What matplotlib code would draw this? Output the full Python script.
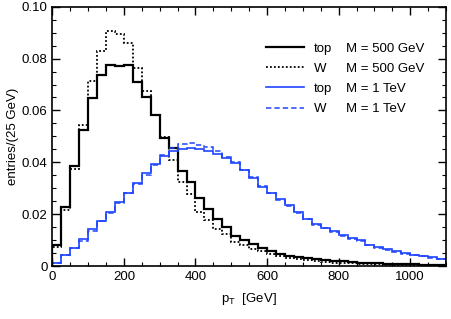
import numpy as np
import matplotlib
matplotlib.use("Agg")
import matplotlib.pyplot as plt
from matplotlib.lines import Line2D
from matplotlib.ticker import MultipleLocator

plt.rcParams['font.family'] = ['Liberation Sans', 'DejaVu Sans']
plt.rcParams['font.size'] = 9.5

# 25 GeV bins from 0 to 1100 GeV
edges = np.arange(0, 1101, 25)

top_500 = [0.0083, 0.0228, 0.0387, 0.0526, 0.0647, 0.0738, 0.0774, 0.0771,
           0.0777, 0.0709, 0.0651, 0.0583, 0.0495, 0.0455, 0.0366, 0.0325,
           0.0264, 0.0219, 0.0183, 0.0149, 0.0114, 0.0099, 0.0084, 0.0070,
           0.0058, 0.0048, 0.0040, 0.0034, 0.0031, 0.0027, 0.0024, 0.0021,
           0.0019, 0.0016, 0.0013, 0.0012, 0.0010, 0.0009, 0.0008, 0.0007,
           0.0006, 0.0005, 0.0004, 0.0004]

w_500 = [0.0074, 0.0215, 0.0374, 0.0543, 0.0713, 0.0829, 0.0908, 0.0895,
         0.0860, 0.0764, 0.0675, 0.0583, 0.0497, 0.0410, 0.0325, 0.0278,
         0.0209, 0.0178, 0.0142, 0.0123, 0.0093, 0.0080, 0.0067, 0.0057,
         0.0046, 0.0037, 0.0031, 0.0026, 0.0022, 0.0019, 0.0016, 0.0013,
         0.0011, 0.0010, 0.0008, 0.0007, 0.0006, 0.0005, 0.0005, 0.0004,
         0.0003, 0.0003, 0.0002, 0.0002]

top_1000 = [0.0013, 0.0044, 0.0070, 0.0104, 0.0142, 0.0173, 0.0208, 0.0248,
            0.0283, 0.0319, 0.0357, 0.0395, 0.0424, 0.0442, 0.0453, 0.0455,
            0.0452, 0.0443, 0.0432, 0.0415, 0.0396, 0.0370, 0.0338, 0.0306,
            0.0280, 0.0258, 0.0234, 0.0209, 0.0183, 0.0163, 0.0148, 0.0135,
            0.0120, 0.0108, 0.0099, 0.0082, 0.0074, 0.0064, 0.0057, 0.0051,
            0.0044, 0.0040, 0.0033, 0.0027]

w_1000 = [0.0012, 0.0043, 0.0068, 0.0098, 0.0135, 0.0172, 0.0204, 0.0245,
          0.0280, 0.0317, 0.0352, 0.0390, 0.0430, 0.0455, 0.0470, 0.0475,
          0.0466, 0.0458, 0.0442, 0.0420, 0.0400, 0.0372, 0.0342, 0.0310,
          0.0283, 0.0254, 0.0231, 0.0206, 0.0181, 0.0160, 0.0146, 0.0133,
          0.0117, 0.0106, 0.0097, 0.0080, 0.0070, 0.0062, 0.0055, 0.0048,
          0.0043, 0.0038, 0.0032, 0.0026]

y_ticks = [0, 0.02, 0.04, 0.06, 0.08, 0.10]
y_tick_labels = ['0', '0.02', '0.04', '0.06', '0.08', '0.10']

blue = '#1f45ff'

fig = plt.figure(figsize=(4.52, 3.19), dpi=100)
ax = fig.add_axes([0.1157, 0.166, 0.871, 0.813])

ax.stairs(w_500, edges, color='black', lw=1.3, ls=(0, (1, 1.2)))
ax.stairs(top_500, edges, color='black', lw=1.6)
ax.stairs(w_1000, edges, color=blue, lw=1.1, ls=(0, (3.5, 2)))
ax.stairs(top_1000, edges, color=blue, lw=1.2)

ax.set_xlim(0, 1100)
ax.set_ylim(0, 0.1)
ax.xaxis.set_major_locator(MultipleLocator(200))
ax.xaxis.set_minor_locator(MultipleLocator(50))
ax.set_yticks(y_ticks, y_tick_labels)
ax.yaxis.set_minor_locator(MultipleLocator(0.005))
ax.tick_params(which='both', direction='in', top=True, right=True)
ax.tick_params(which='major', length=6, width=1)
ax.tick_params(which='minor', length=3, width=0.8)
for s in ax.spines.values():
    s.set_linewidth(1.2)

ax.set_xlabel(r'$\mathregular{p_T}$  [GeV]', labelpad=6)
ax.set_ylabel('entries/(25 GeV)', labelpad=2)

# legend: line + process, then mass column
handles = [Line2D([], [], color='black', lw=1.6),
           Line2D([], [], color='black', lw=1.3, ls=(0, (1, 1.2))),
           Line2D([], [], color=blue, lw=1.2),
           Line2D([], [], color=blue, lw=1.1, ls=(0, (3.5, 2)))]
procs = ['top', 'W', 'top', 'W']
masses = ['M = 500 GeV', 'M = 500 GeV', 'M = 1 TeV', 'M = 1 TeV']

leg1 = ax.legend(handles, procs, loc='upper left', bbox_to_anchor=(0.543, 0.862),
                 frameon=False, handlelength=2.9, handletextpad=0.75,
                 labelspacing=0.6, borderpad=0, borderaxespad=0)
ax.add_artist(leg1)
blank = [Line2D([], [], alpha=0) for _ in masses]
ax.legend(blank, masses, loc='upper left', bbox_to_anchor=(0.746, 0.862),
          frameon=False, handlelength=0, handletextpad=0,
          labelspacing=0.6, borderpad=0, borderaxespad=0)

fig.savefig('out.png', dpi=100)
